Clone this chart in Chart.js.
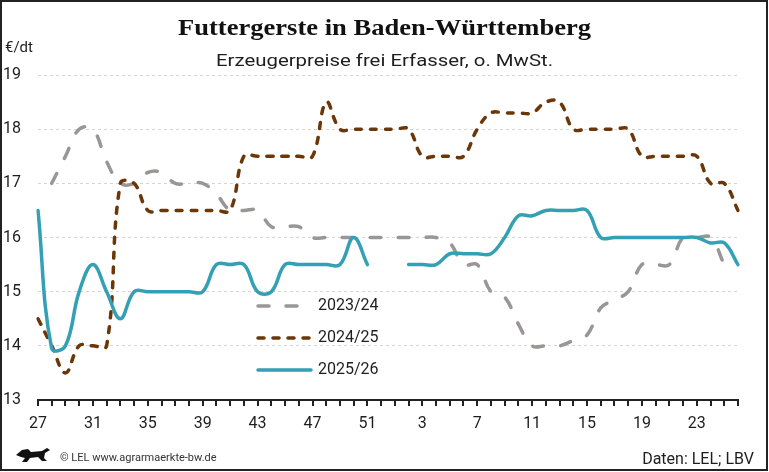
<!DOCTYPE html>
<html>
<head>
<meta charset="utf-8">
<script src="https://cdn.jsdelivr.net/npm/chart.js@4"></script>
<style>
  body { margin: 0; background: #fff; }
  #wrap { width: 769px; height: 472px; }
</style>
</head>
<body>
<div id="wrap"><canvas id="line-chart" width="769" height="472"></canvas></div>
<script>
// Kalenderwochen Juli bis Juni
const weeks = [27, 28, 29, 30, 31, 32, 33, 34, 35, 36, 37, 38, 39, 40, 41, 42, 43, 44, 45, 46, 47, 48, 49, 50, 51, 52,
  1, 2, 3, 4, 5, 6, 7, 8, 9, 10, 11, 12, 13, 14, 15, 16, 17, 18, 19, 20, 21, 22, 23, 24, 25, 26]

const yTicks = [13, 14, 15, 16, 17, 18, 19]

const price2324 = [null, 17.0, 17.5, 18.0, 18.0, 17.4, 17.0, 17.0, 17.2, 17.2, 17.0, 17.0, 17.0, 16.8, 16.5, 16.5,
  16.5, 16.2, 16.2, 16.2, 16.0, 16.0, 16.0, 16.0, 16.0, 16.0, 16.0, 16.0, 16.0, 16.0, 15.9, 15.5, 15.5, 15.0,
  14.9, 14.4, 14.0, 14.0, 14.0, 14.1, 14.2, 14.7, 14.85, 15.0, 15.5, 15.5, 15.5, 16.0, 16.0, 16.0, 15.5, null]

const price2425 = [14.5, 14.0, 13.5, 14.0, 14.0, 14.0, 17.0, 17.0, 16.5, 16.5, 16.5, 16.5, 16.5, 16.5, 16.5, 17.5,
  17.5, 17.5, 17.5, 17.5, 17.5, 18.5, 18.0, 18.0, 18.0, 18.0, 18.0, 18.0, 17.5, 17.5, 17.5, 17.5, 18.0, 18.3,
  18.3, 18.3, 18.3, 18.5, 18.5, 18.0, 18.0, 18.0, 18.0, 18.0, 17.5, 17.5, 17.5, 17.5, 17.5, 17.0, 17.0, 16.5]

const price2526 = [16.5, 13.95, 14.0, 15.0, 15.5, 15.0, 14.5, 15.0, 15.0, 15.0, 15.0, 15.0, 15.0, 15.5, 15.5, 15.5,
  15.0, 15.0, 15.5, 15.5, 15.5, 15.5, 15.5, 16.0, 15.5, null, null, 15.5, 15.5, 15.5, 15.7, 15.7, 15.7, 15.7,
  16.0, 16.4, 16.4, 16.5, 16.5, 16.5, 16.5, 16.0, 16.0, 16.0, 16.0, 16.0, 16.0, 16.0, 16.0, 15.9, 15.9, 15.5]

const seriesNames = ["2023/24", "2024/25", "2025/26"]

const textColor = "#1e1e1e"
const sans = '"Roboto", "Liberation Sans", sans-serif'

// Rahmen, Titel, Fußzeile und Legende direkt auf die Leinwand
const decorations = {
  id: "decorations",
  afterDraw(chart) {
    const ctx = chart.ctx
    ctx.save()

    // Titel, horizontal schmal gestaucht
    ctx.fillStyle = "#111"
    ctx.font = 'bold 23px "Liberation Serif", serif'
    ctx.textBaseline = "alphabetic"
    ctx.textAlign = "left"
    const title = "Futtergerste in Baden-Württemberg"
    const tw = ctx.measureText(title).width
    ctx.save()
    ctx.translate(178, 35)
    ctx.scale(413 / tw, 1)
    ctx.fillText(title, 0, 0)
    ctx.restore()

    // Untertitel
    ctx.fillStyle = textColor
    ctx.font = "17px " + sans
    const sub = "Erzeugerpreise frei Erfasser, o. MwSt."
    const sw = ctx.measureText(sub).width
    ctx.save()
    ctx.translate(216, 66)
    ctx.scale(337 / sw, 1)
    ctx.fillText(sub, 0, 0)
    ctx.restore()

    // Einheit
    ctx.font = "15px " + sans
    ctx.fillText("€/dt", 5, 52)

    // Fußzeile
    ctx.font = "11px " + sans
    ctx.fillStyle = "#333"
    ctx.fillText("© LEL www.agrarmaerkte-bw.de", 60, 461)
    ctx.font = "16px " + sans
    ctx.fillStyle = textColor
    ctx.textAlign = "right"
    ctx.fillText("Daten: LEL; LBV", 754, 464)

    // Löwe (vereinfacht)
    ctx.fillStyle = "#111"
    ctx.beginPath()
    ctx.moveTo(16, 455)
    ctx.lineTo(22, 450)
    ctx.lineTo(28, 449)
    ctx.lineTo(31, 452)
    ctx.lineTo(42, 451)
    ctx.lineTo(47, 448)
    ctx.lineTo(50, 450)
    ctx.lineTo(45, 453)
    ctx.lineTo(44, 458)
    ctx.lineTo(47, 461)
    ctx.lineTo(42, 461)
    ctx.lineTo(38, 457)
    ctx.lineTo(30, 458)
    ctx.lineTo(27, 462)
    ctx.lineTo(22, 462)
    ctx.lineTo(25, 458)
    ctx.lineTo(21, 457)
    ctx.closePath()
    ctx.fill()

    // Legende
    const ly = [306, 338, 370]
    chart.data.datasets.forEach((ds, i) => {
      ctx.beginPath()
      ctx.setLineDash(ds.borderDash || [])
      ctx.lineCap = "round"
      ctx.lineWidth = ds.borderWidth
      ctx.strokeStyle = ds.borderColor
      ctx.moveTo(258, ly[i])
      ctx.lineTo(311, ly[i])
      ctx.stroke()
      ctx.setLineDash([])
      ctx.fillStyle = textColor
      ctx.font = "16px " + sans
      ctx.textAlign = "left"
      ctx.textBaseline = "middle"
      ctx.fillText(seriesNames[i], 318, ly[i])
    })

    // Rahmen
    ctx.lineWidth = 2
    ctx.strokeStyle = "#222"
    ctx.strokeRect(1, 1, 766, 469)
    ctx.restore()
  }
}

const lineStyle = {
  borderWidth: 3.5,
  pointRadius: 0,
  tension: 0.4,
  fill: false,
  spanGaps: false,
  borderCapStyle: "round",
  borderJoinStyle: "round",
}

var config = {
  type: "line",
  data: {
    labels: weeks,
    datasets: [
      { ...lineStyle, label: seriesNames[0], data: price2324, borderColor: "#9a9696", borderDash: [11, 17], order: 3 },
      { ...lineStyle, label: seriesNames[1], data: price2425, borderColor: "#6b3608", borderDash: [6, 9], order: 2 },
      { ...lineStyle, label: seriesNames[2], data: price2526, borderColor: "#33a0b4", order: 1 },
    ],
  },
  options: {
    responsive: false,
    animation: false,
    devicePixelRatio: 1,
    layout: { padding: { left: 3, top: 75, right: 31, bottom: 42 } },
    plugins: {
      legend: { display: false },
      tooltip: { enabled: false },
    },
    scales: {
      x: {
        afterFit: (scale) => { scale.height = 30 },
        grid: { drawOnChartArea: false, color: "#222", lineWidth: 2, tickLength: 6 },
        border: { color: "#222", width: 2 },
        ticks: {
          autoSkip: false,
          maxRotation: 0,
          padding: 8,
          color: textColor,
          font: { family: sans, size: 16 },
          callback: function (val, index) { return index % 4 === 0 ? this.getLabelForValue(val) : "" },
        },
      },
      y: {
        min: yTicks[0],
        max: yTicks[yTicks.length - 1],
        afterFit: (scale) => { scale.width = 35 },
        afterBuildTicks: (scale) => { scale.ticks = yTicks.map(v => ({ value: v })) },
        grid: { color: "#d4d4d4", lineWidth: 1, drawTicks: false },
        border: { display: false, dash: [3, 3] },
        ticks: {
          crossAlign: "far",
          padding: 0,
          color: textColor,
          font: { family: sans, size: 16 },
        },
      },
    },
  },
  plugins: [decorations],
}

var ctx = document.getElementById("line-chart").getContext("2d")
window.myLine = new Chart(ctx, config)
</script>
</body>
</html>
